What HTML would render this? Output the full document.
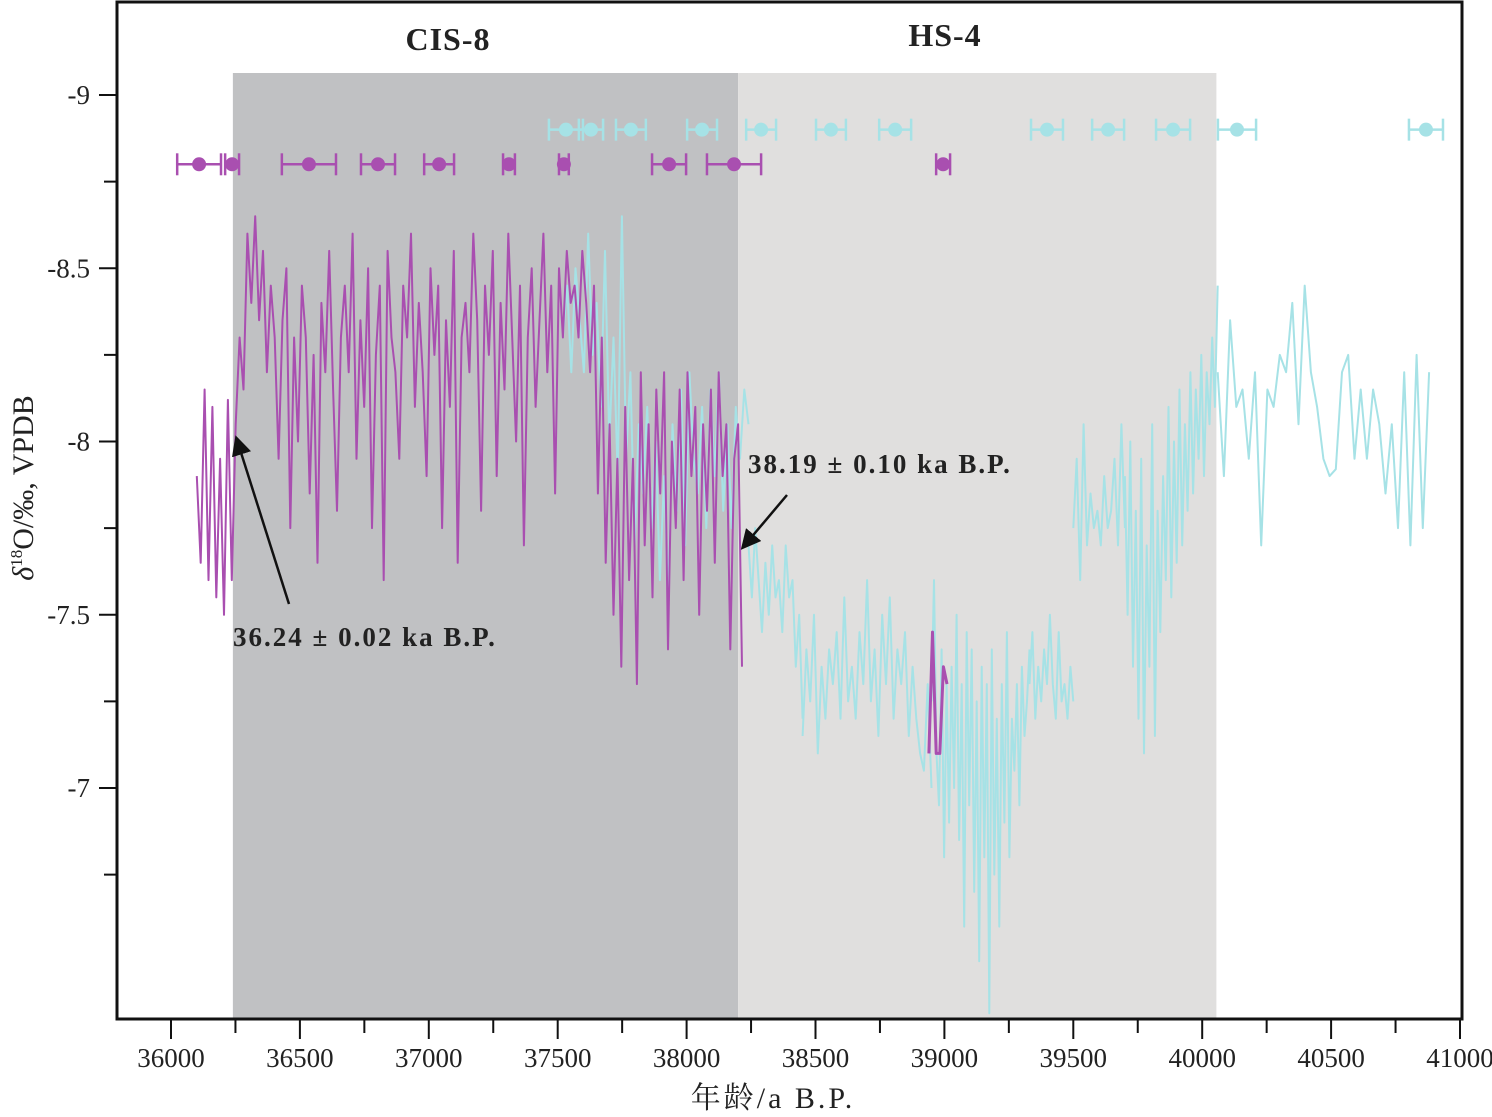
<!DOCTYPE html>
<html><head><meta charset="utf-8"><style>
html,body{margin:0;padding:0;background:#fff;}
svg{display:block;}
</style></head><body>
<svg id="chart" width="1492" height="1117" xmlns="http://www.w3.org/2000/svg" font-family="'Liberation Serif', 'Noto Serif CJK SC', serif"></svg>
<script>
const xTicks = [36000,36500,37000,37500,38000,38500,39000,39500,40000,40500,41000];
const yTicks = [-9,-8.5,-8,-7.5,-7];
const shadeCIS = [36240, 38200];
const shadeHS = [38200, 40055];
const purpleRange = [36100, 38215];
const purpleValues = [-7.9,-7.65,-8.15,-7.6,-8.1,-7.55,-7.95,-7.5,-8.12,-7.6,
-8.05,-8.3,-8.15,-8.6,-8.4,-8.65,-8.35,-8.55,-8.2,-8.45,-8.3,-7.95,-8.35,-8.5,-7.75,-8.3,-8.0,-8.45,-8.3,-7.85,-8.25,-7.65,-8.4,-8.2,-8.55,-8.15,-7.8,-8.3,-8.45,-8.2,-8.6,-7.95,-8.35,-8.1,-8.5,-7.75,-8.25,-8.45,-7.6,-8.55,-8.3,-8.2,-7.95,-8.45,-8.3,-8.6,-8.1,-8.4,-8.2,-7.9,-8.5,-8.25,-8.45,-7.75,-8.35,-8.1,-8.55,-7.65,-8.3,-8.4,-8.2,-8.6,-8.35,-7.8,-8.45,-8.25,-8.55,-7.9,-8.4,-8.15,-8.6,-8.3,-8.0,-8.45,-7.7,-8.3,-8.5,-8.1,-8.35,-8.6,-8.2,-8.45,-7.85,-8.5,-8.3,-8.55,-8.4,-8.45,-8.3,-8.55,-8.4,-8.2,-8.45,-7.85,-8.3,-7.65,-8.05,-7.5,-7.95,-7.35,-8.1,-7.6,-7.95,-7.3,-8.2,-7.7,-8.05,-7.55,-8.15,-7.85,-8.2,-7.4,-8.0,-7.75,-8.15,-7.6,-8.2,-7.9,-8.1,-7.5,-8.05,-7.8,-8.15,-7.65,-8.2,-7.9,-8.05,-7.4,-7.95,-8.05,-7.35];
const purple2Range = [38940, 39010];
const purple2Values = [-7.1,-7.45,-7.1,-7.1,-7.35,-7.3];
const cyanARange = [37520, 38240];
const cyanAValues = [-8.3,-8.45,-8.2,-8.5,-8.35,-8.2,-8.6,-8.25,-8.4,-8.1,-8.55,-8.0,-8.3,-7.9,-8.65,-7.95,-8.2,-7.7,-8.05,-7.85,-8.1,-7.75,-8.0,-7.6,-7.9,-7.55,-8.05,-7.8,-8.15,-7.7,-8.2,-7.95,-7.85,-8.1,-7.75,-8.15,-7.9,-8.2,-7.8,-8.05,-7.75,-8.1,-7.95,-8.15,-8.05];
const cyanB1Range = [38240, 38450];
const cyanB1Values = [-7.7,-7.55,-7.75,-7.6,-7.45,-7.65,-7.5,-7.7,-7.55,-7.6,-7.45,-7.7,-7.55,-7.6,-7.35,-7.5,-7.2];
const cyanB2Range = [38450, 38950];
const cyanB2Values = [-7.15,-7.4,-7.25,-7.5,-7.1,-7.35,-7.2,-7.4,-7.3,-7.45,-7.2,-7.55,-7.25,-7.35,-7.2,-7.45,-7.3,-7.6,-7.25,-7.4,-7.15,-7.5,-7.3,-7.55,-7.2,-7.4,-7.3,-7.45,-7.15,-7.35,-7.2,-7.1,-7.05,-7.3,-7.0];
const cyanB3Range = [38950, 39330];
const cyanB3Values = [-7.25,-7.6,-7.1,-6.95,-7.4,-6.8,-7.3,-6.9,-7.35,-7.0,-7.5,-6.85,-7.3,-6.6,-7.45,-6.95,-7.4,-6.7,-7.25,-6.5,-7.35,-6.8,-7.3,-6.35,-7.4,-6.75,-7.2,-6.6,-7.3,-6.9,-7.45,-6.8,-7.2,-7.05,-7.3,-6.95,-7.35,-7.15,-7.25,-7.4];
const cyanB4Range = [39330, 39500];
const cyanB4Values = [-7.3,-7.45,-7.2,-7.35,-7.25,-7.4,-7.3,-7.5,-7.3,-7.2,-7.45,-7.25,-7.3,-7.2,-7.35,-7.25];
const cyanB5Range = [39500, 39700];
const cyanB5Values = [-7.75,-7.95,-7.6,-8.05,-7.7,-7.85,-7.75,-7.8,-7.7,-7.9,-7.75,-7.8,-7.95,-7.7,-8.05,-7.75];
const cyanB6Range = [39700, 40060];
const cyanB6Values = [-7.9,-7.5,-8.0,-7.35,-7.8,-7.2,-7.95,-7.1,-7.7,-7.35,-8.05,-7.15,-7.8,-7.45,-7.9,-7.6,-8.1,-7.55,-8.0,-7.65,-8.15,-7.7,-8.05,-7.8,-8.2,-7.85,-8.15,-7.95,-8.25,-7.9,-8.2,-8.05,-8.3,-8.1,-8.45];
const cyanCRange = [40060, 40880];
const cyanCValues = [-8.2,-7.9,-8.35,-8.1,-8.15,-7.95,-8.2,-7.7,-8.15,-8.1,-8.25,-8.2,-8.4,-8.05,-8.45,-8.2,-8.1,-7.95,-7.9,-7.92,-8.2,-8.25,-7.95,-8.15,-7.95,-8.15,-8.05,-7.85,-8.05,-7.75,-8.2,-7.7,-8.25,-7.75,-8.2];
const purpleDates = [36109,36237,36535,36803,37040,37311,37524,37932,38184,38995];
const purpleErrors = [85,27,105,66,58,23,19,66,105,27];
const purpleDateLevel = -8.8;
const cyanDates = [37532,37629,37784,38060,38289,38560,38809,39398,39635,39887,40135,40868];
const cyanErrors = [66,47,58,58,58,58,62,62,62,66,74,66];
const cyanDateLevel = -8.9;

const L=117,R=1462,T=2,B=1019;
const xs = v => 171 + (v-36000)*(1289/5000);
const ys = v => 95 + (v+9)*346.5;
const NS="http://www.w3.org/2000/svg";
const svg=document.getElementById('chart');
function mk(tag,attrs,parent){const e=document.createElementNS(NS,tag);for(const k in attrs)e.setAttribute(k,attrs[k]);(parent||svg).appendChild(e);return e;}

let e;
e=mk('rect',{x:xs(shadeCIS[0]),y:73,width:xs(shadeCIS[1])-xs(shadeCIS[0]),height:B-73,fill:'#c0c1c3'});


e=mk('rect',{x:xs(shadeHS[0]),y:73,width:xs(shadeHS[1])-xs(shadeHS[0]),height:B-73,fill:'#e0dfde'});



function series(vals,range,color,w,name){
  const n=vals.length;
  const pts=vals.map((v,i)=>xs(range[0]+(range[1]-range[0])*i/(n-1)).toFixed(1)+','+ys(v).toFixed(1)).join(' ');
  const p=mk('polyline',{points:pts,fill:'none',stroke:color,'stroke-width':w,'stroke-linejoin':'round'});
  
  
}
const CY='#a6e2e6';
series(cyanAValues,cyanARange,CY,2,'cyan-series-a');
series(cyanB1Values,cyanB1Range,CY,2,'cyan-series-b1');
series(cyanB2Values,cyanB2Range,CY,2,'cyan-series-b2');
series(cyanB3Values,cyanB3Range,CY,2,'cyan-series-b3');
series(cyanB4Values,cyanB4Range,CY,2,'cyan-series-b4');
series(cyanB5Values,cyanB5Range,CY,2,'cyan-series-b5');
series(cyanB6Values,cyanB6Range,CY,2,'cyan-series-b6');
series(cyanCValues,cyanCRange,CY,2,'cyan-series-c');
series(purpleValues,purpleRange,'#a94fb0',2,'purple-series');
series(purple2Values,purple2Range,'#a94fb0',3,'purple-series-segment');

function dates(arr,errs,level,color,name){
  const y=ys(level);
  arr.forEach((d,i)=>{
    const g=mk('g',{stroke:color,'stroke-width':2.5,fill:color});
    
    
    const x1=xs(d-errs[i]),x2=xs(d+errs[i]);
    mk('line',{x1:x1,x2:x2,y1:y,y2:y},g);
    mk('line',{x1:x1,x2:x1,y1:y-11,y2:y+11},g);
    mk('line',{x1:x2,x2:x2,y1:y-11,y2:y+11},g);
    mk('circle',{cx:xs(d),cy:y,r:7,stroke:'none'},g);
  });
}
dates(cyanDates,cyanErrors,cyanDateLevel,CY,'cyan-dating-point');
dates(purpleDates,purpleErrors,purpleDateLevel,'#a94fb0','purple-dating-point');

e=mk('rect',{x:L,y:T,width:R-L,height:B-T,fill:'none',stroke:'#111','stroke-width':3});



for(let v=36000; v<=41000; v+=250){
  const major = xTicks.includes(v);
  e=mk('line',{x1:xs(v),x2:xs(v),y1:B,y2:major?1039:1033,stroke:'#111','stroke-width':2});
  
  
}
xTicks.forEach(v=>{
  const t=mk('text',{x:xs(v),y:1067,'text-anchor':'middle','font-size':27,fill:'#222'});
  t.textContent=v;
  
  
});
for(let v=-9; v<=-6.75; v+=0.25){
  const major = yTicks.includes(v);
  e=mk('line',{x1:L,x2:major?99:104,y1:ys(v),y2:ys(v),stroke:'#111','stroke-width':2});
  
  
}
yTicks.forEach(v=>{
  const t=mk('text',{x:90,y:ys(v)+9,'text-anchor':'end','font-size':27,fill:'#222'});
  t.textContent=String(v);
  
  
});

function label(x,y,txt,name,size,anchor,ls){
  const t=mk('text',{x:x,y:y,'font-size':size,'font-weight':'bold','text-anchor':anchor||'start',fill:'#222','letter-spacing':ls||0});
  t.textContent=txt;
  
  
}
label(448,50,'CIS-8','cis-8-label',32,'middle',1);
label(945,46,'HS-4','hs-4-label',32,'middle',1);
label(233,646,'36.24 ± 0.02 ka B.P.','annotation-36-24',27,'start',2);
label(748,473,'38.19 ± 0.10 ka B.P.','annotation-38-19',27,'start',2);

mk('defs',{}).innerHTML='<marker id="ah" markerWidth="8" markerHeight="8" refX="6" refY="4" orient="auto"><path d="M0,0 L8,4 L0,8 z" fill="#111"/></marker>';
e=mk('line',{x1:289,y1:604,x2:237,y2:440,stroke:'#111','stroke-width':2.5,'marker-end':'url(#ah)'});


e=mk('line',{x1:787,y1:495,x2:744,y2:546,stroke:'#111','stroke-width':2.5,'marker-end':'url(#ah)'});



const xt=mk('text',{x:773,y:1108,'text-anchor':'middle','font-size':30,fill:'#222','letter-spacing':3});
xt.textContent='年龄/a  B.P.';


const yt=mk('text',{x:0,y:0,'text-anchor':'middle','font-size':30,fill:'#222',transform:'translate(33,488) rotate(-90)'});
yt.innerHTML='<tspan font-style="italic">δ</tspan><tspan font-size="17" dy="-11">18</tspan><tspan dy="11">O/‰, VPDB</tspan>';


</script>
</body></html>
